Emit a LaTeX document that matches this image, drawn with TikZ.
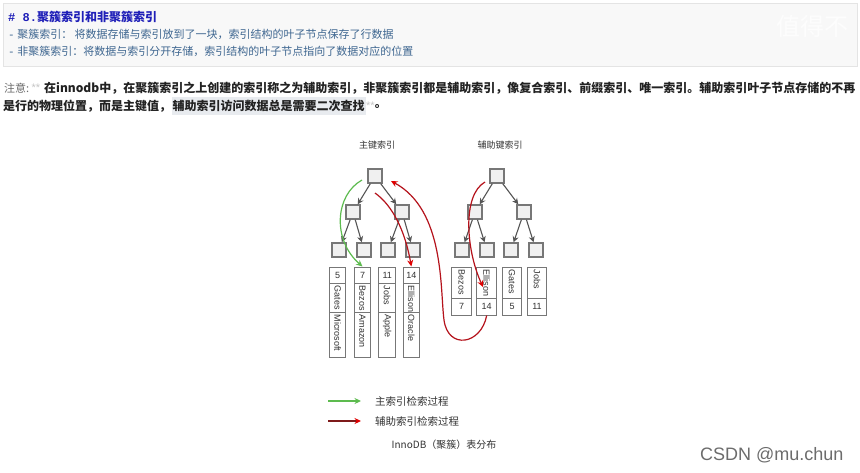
\documentclass[tikz,border=0pt]{standalone}
\usepackage{fontspec}
\setmainfont{Liberation Sans}
\setmonofont{Liberation Mono}
\newfontfamily\cjk{Noto Sans CJK SC}
\usetikzlibrary{arrows.meta,calc}
\definecolor{headblue}{HTML}{1F1FB8}
\definecolor{bullblue}{HTML}{3E6690}
\definecolor{boxbg}{HTML}{F8F8F8}
\definecolor{boxline}{HTML}{E4E4E4}
\definecolor{notetext}{HTML}{222222}
\definecolor{hlbg}{HTML}{E8EBEF}
\definecolor{treegray}{HTML}{777777}
\definecolor{edgegray}{HTML}{555555}
\definecolor{celltext}{HTML}{333333}
\definecolor{greenA}{HTML}{5DBB4F}
\definecolor{redA}{HTML}{B5121B}
\definecolor{redB}{HTML}{E00000}
\definecolor{darkredA}{HTML}{7E1A1A}
\definecolor{wmark}{HTML}{FDFDFD}
\tikzset{
  tbox/.style={draw=treegray, line width=1.4pt, fill=white!94!black, minimum size=14pt, inner sep=0pt},
  tedge/.style={draw=edgegray, line width=1.1pt, -{Stealth[length=6pt,width=6pt]}},
  cellbox/.style={draw=treegray, line width=1pt, fill=white, inner sep=0pt, text=celltext, font=\fontsize{9}{10}\selectfont},
  rtext/.style={rotate=-90, inner sep=0pt, text=celltext, font=\fontsize{9}{10}\selectfont},
  garrow/.style={draw=greenA, line width=1.2pt, -{Stealth[length=6.5pt,width=6pt]}},
  rarrow/.style={draw=redA, line width=1.2pt, -{Stealth[length=6.5pt,width=6pt,color=redB]}},
  txt/.style={inner sep=0pt, anchor=west},
}
\begin{document}
\begin{tikzpicture}[x=1pt,y=-1pt]
\useasboundingbox (0,0) rectangle (860,472);
\fill[white] (0,0) rectangle (860,472);
% top box
\draw[boxline, fill=boxbg] (3,3) rectangle (857,66);
\node[txt, text=wmark, font=\cjk\fontsize{24}{26}\selectfont] (wm) at (776,26) {值得不};
\node[txt, text=headblue] (head) at (8,17) {\fontsize{12}{14}\selectfont\ttfamily\bfseries \# 8.\cjk\bfseries 聚簇索引和非聚簇索引};
\node[txt, text=bullblue] (b1) at (8,34.5) {\fontsize{11}{13}\selectfont\ttfamily -\cjk\ 聚簇索引：\ 将数据存储与索引放到了一块，索引结构的叶子节点保存了行数据};
\node[txt, text=bullblue] (b2) at (8,51.5) {\fontsize{11}{13}\selectfont\ttfamily -\cjk\ 非聚簇索引：将数据与索引分开存储，索引结构的叶子节点指向了数据对应的位置};
% note
\node[txt, text=gray!85!black, font=\cjk\fontsize{11}{13}\selectfont] (n1a) at (4,88) {注意:};
\node[txt, text=gray!45, font=\fontsize{11}{13}\selectfont, anchor=west] (n1b) at ($(n1a.east)+(2,0)$) {**};
\node[txt, text=notetext, font=\cjk\bfseries\fontsize{12}{14}\selectfont] (n1c) at (44,88) {在innodb中，在聚簇索引之上创建的索引称之为辅助索引，非聚簇索引都是辅助索引，像复合索引、前缀索引、唯一索引。辅助索引叶子节点存储的不再};
\node[txt, text=notetext, font=\cjk\bfseries\fontsize{12}{14}\selectfont] (n2a) at (3,106) {是行的物理位置，而是主键值，};
\node[txt, text=notetext, fill=hlbg, inner ysep=3pt, inner xsep=1pt, font=\cjk\bfseries\fontsize{12}{14}\selectfont] (n2b) at ($(n2a.east)+(0,0)$) {辅助索引访问数据总是需要二次查找};
\node[txt, text=gray!45, font=\fontsize{11}{13}\selectfont] (n2c) at (n2b.east) {**};
\node[txt, text=notetext, font=\cjk\bfseries\fontsize{12}{14}\selectfont] (n2d) at (n2c.east) {。};
% titles
\node[text=celltext, font=\cjk\fontsize{9}{11}\selectfont] (t1) at (377,145) {主键索引};
\node[text=celltext, font=\cjk\fontsize{9}{11}\selectfont] (t2) at (500,145) {辅助键索引};
% left tree
\node[tbox] (r1) at (375,176) {};
\node[tbox] (a1) at (353,212) {};
\node[tbox] (a2) at (402,212) {};
\node[tbox] (l1) at (339,250) {};
\node[tbox] (l2) at (364,250) {};
\node[tbox] (l3) at (388,250) {};
\node[tbox] (l4) at (413,250) {};
\draw[tedge] (r1) -- (a1);
\draw[tedge] (r1) -- (a2);
\draw[tedge] (a1) -- (l1);
\draw[tedge] (a1) -- (l2);
\draw[tedge] (a2) -- (l3);
\draw[tedge] (a2) -- (l4);
% right tree
\node[tbox] (r2) at (497,176) {};
\node[tbox] (b1n) at (475,212) {};
\node[tbox] (b2n) at (524,212) {};
\node[tbox] (m1) at (462,250) {};
\node[tbox] (m2) at (487,250) {};
\node[tbox] (m3) at (511,250) {};
\node[tbox] (m4) at (536,250) {};
\draw[tedge] (r2) -- (b1n);
\draw[tedge] (r2) -- (b2n);
\draw[tedge] (b1n) -- (m1);
\draw[tedge] (b1n) -- (m2);
\draw[tedge] (b2n) -- (m3);
\draw[tedge] (b2n) -- (m4);
% left data columns
\foreach \x/\n/\a/\b [count=\i] in {337.7/5/Gates/Microsoft, 362.5/7/Bezos/Amazon, 387.2/11/Jobs/Apple, 411.3/14/Ellison/Oracle}{
  \node[cellbox, minimum width=16.5pt, minimum height=16pt] (L\i a) at (\x,275) {\n};
  \node[cellbox, minimum width=16.5pt, minimum height=29pt] (L\i b) at (\x,297.5) {};
  \node[cellbox, minimum width=16.5pt, minimum height=45pt] (L\i c) at (\x,334.5) {};
  \node[rtext, anchor=west] (L\i bt) at ($(L\i b.north)+(0,3)$) {\a};
  \node[rtext, anchor=west] (L\i ct) at ($(L\i c.north)+(0,3)$) {\b};
}
% right data columns
\foreach \x/\n/\a [count=\i] in {461.7/7/Bezos, 486.7/14/Ellison, 512/5/Gates, 537/11/Jobs}{
  \node[cellbox, minimum width=19.5pt, minimum height=31pt] (R\i a) at (\x,282.5) {};
  \node[cellbox, minimum width=19.5pt, minimum height=17pt] (R\i b) at (\x,306.5) {\n};
  \node[rtext, anchor=west] (R\i at) at ($(R\i a.north)+(0,3)$) {\a};
}
% search arrows
\coordinate (gs) at (362,180);
\draw[garrow] (gs) .. controls (335,195) and (332,240) .. (L2a.north);
\coordinate (rs1) at (375,193);
\draw[rarrow] (rs1) .. controls (392,205) and (405,230) .. (L4a.north);
\coordinate (rs2) at (485,182);
\coordinate (re2) at (483,287);
\draw[rarrow] (rs2) .. controls (462,195) and (466,250) .. (re2);
\coordinate (re3) at (391,181);
\draw[rarrow] (R2b.south) .. controls (481,345) and (448,350) .. (444,320) .. controls (440,290) and (445,210) .. (re3);
% legend
\coordinate (g1) at (328,401);
\coordinate (g2) at (361,401);
\draw[garrow] (g1) -- (g2);
\node[txt, text=celltext, font=\cjk\fontsize{10.5}{12}\selectfont] (lg1) at (375,401) {主索引检索过程};
\coordinate (h1) at (328,421);
\coordinate (h2) at (361,421);
\draw[draw=darkredA, line width=1.2pt, -{Stealth[length=6.5pt,width=6pt,color=redB]}] (h1) -- (h2);
\node[txt, text=celltext, font=\cjk\fontsize{10.5}{12}\selectfont] (lg2) at (375,421) {辅助索引检索过程};
\node[text=celltext, font=\cjk\fontsize{10}{12}\selectfont] (cap) at (444,445) {InnoDB（聚簇）表分布};
% signature
\node[txt, text=gray!85!black, font=\fontsize{18}{20}\selectfont] (sig) at (700,455) {CSDN @mu.chun};
\end{tikzpicture}
\end{document}
